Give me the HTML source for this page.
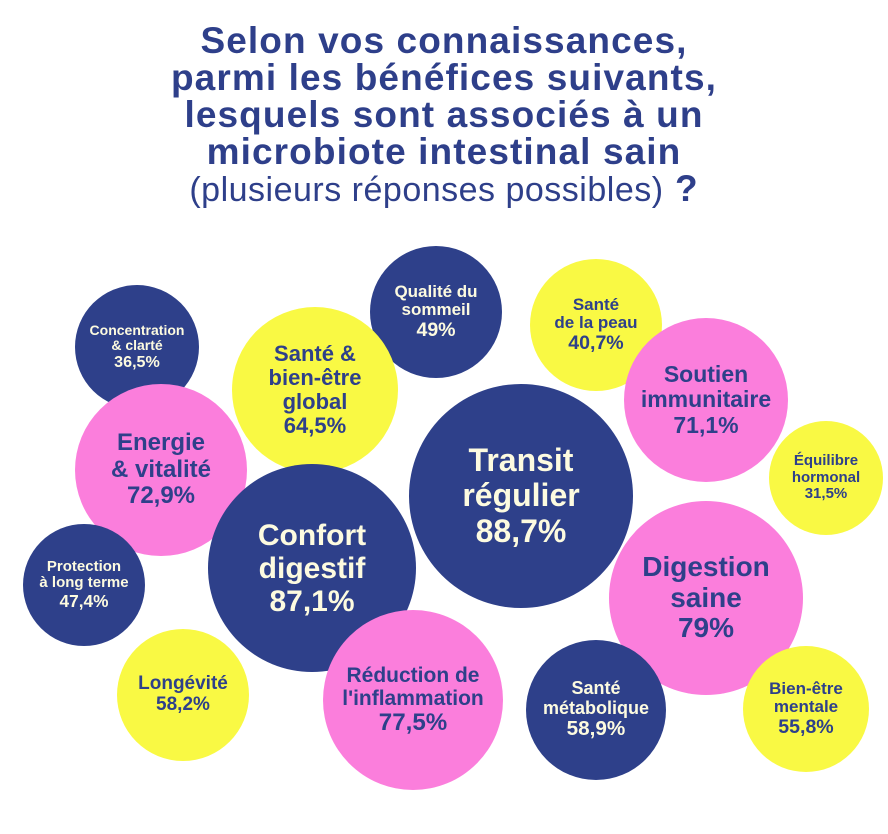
<!DOCTYPE html>
<html><head><meta charset="utf-8"><style>
body{margin:0;width:888px;height:834px;background:#fff;position:relative;overflow:hidden;font-family:"Liberation Sans","DejaVu Sans",sans-serif}
.t{position:absolute;left:0;width:888px;top:22px;text-align:center;color:#2e3f8a;font-weight:bold;font-size:37px;letter-spacing:1.1px;line-height:37px}
.t span{font-weight:normal;font-size:34px;letter-spacing:0.5px}
.c{position:absolute;border-radius:50%;display:flex;align-items:center;justify-content:center;text-align:center;font-weight:bold;line-height:1.1}
.n{background:#2e408a;color:#fdfbe0}
.p{background:#fb7edc;color:#2e408a}
.y{background:#f9f944;color:#2e408a}
b{font-size:1.15em}
</style></head><body>
<div class="t">Selon vos connaissances,<br>parmi les bénéfices suivants,<br>lesquels sont associés à un<br>microbiote intestinal sain<br><span>(plusieurs réponses possibles)</span> ?</div>

<div class="c n" style="left:75px;top:285px;width:124px;height:124px;font-size:14px"><div>Concentration<br>&amp; clarté<br><b>36,5%</b></div></div>
<div class="c n" style="left:370px;top:246px;width:132px;height:132px;font-size:17px"><div>Qualité du<br>sommeil<br><b>49%</b></div></div>
<div class="c y" style="left:530px;top:259px;width:132px;height:132px;font-size:17px"><div>Santé<br>de la peau<br><b>40,7%</b></div></div>
<div class="c y" style="left:232px;top:307px;width:166px;height:166px;font-size:22px"><div>Santé &amp;<br>bien-être<br>global<br>64,5%</div></div>
<div class="c p" style="left:624px;top:318px;width:164px;height:164px;font-size:23px"><div>Soutien<br>immunitaire<br>71,1%</div></div>
<div class="c y" style="left:769px;top:421px;width:114px;height:114px;font-size:15px"><div>Équilibre<br>hormonal<br>31,5%</div></div>
<div class="c p" style="left:75px;top:384px;width:172px;height:172px;font-size:24px"><div>Energie<br>&amp; vitalité<br>72,9%</div></div>
<div class="c n" style="left:409px;top:384px;width:224px;height:224px;font-size:32px"><div>Transit<br>régulier<br>88,7%</div></div>
<div class="c n" style="left:208px;top:464px;width:208px;height:208px;font-size:30px"><div>Confort<br>digestif<br>87,1%</div></div>
<div class="c n" style="left:23px;top:524px;width:122px;height:122px;font-size:15px"><div>Protection<br>à long terme<br><b>47,4%</b></div></div>
<div class="c p" style="left:609px;top:501px;width:194px;height:194px;font-size:28px"><div>Digestion<br>saine<br>79%</div></div>
<div class="c y" style="left:117px;top:629px;width:132px;height:132px;font-size:19px"><div>Longévité<br>58,2%</div></div>
<div class="c p" style="left:323px;top:610px;width:180px;height:180px;font-size:21px"><div>Réduction de<br>l'inflammation<br><b>77,5%</b></div></div>
<div class="c n" style="left:526px;top:640px;width:140px;height:140px;font-size:18px"><div>Santé<br>métabolique<br><b>58,9%</b></div></div>
<div class="c y" style="left:743px;top:646px;width:126px;height:126px;font-size:17px"><div>Bien-être<br>mentale<br><b>55,8%</b></div></div>
</body></html>
